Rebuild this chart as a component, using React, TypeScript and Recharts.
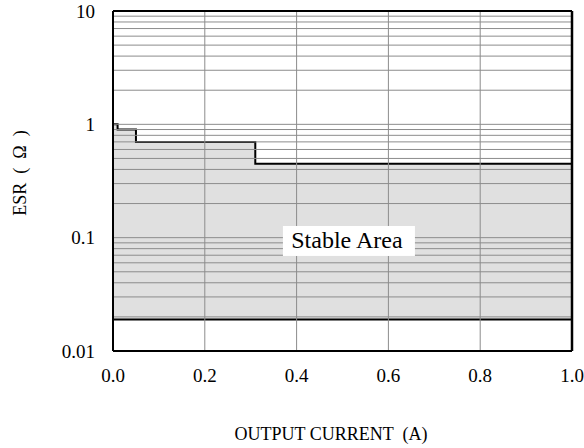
import {
  ComposedChart,
  Area,
  XAxis,
  YAxis,
  ReferenceLine,
  ReferenceDot,
} from "recharts";

// output current (A) where the ESR ceiling changes
const currentA = [0, 0.01, 0.05, 0.31, 1.0];
// max ESR allowed from each current onward
const esrMax = [1.0, 0.9, 0.7, 0.45, 0.45];
// min ESR, flat across the range
const esrMin = [0.019, 0.019, 0.019, 0.019, 0.019];

const xTicks = [0, 0.2, 0.4, 0.6, 0.8, 1.0];
const yTicks = [0.01, 0.1, 1, 10];
const minorSteps = [1, 2, 3, 4, 5, 6, 7, 8, 9];

const FONT = "Liberation Serif";

const data = currentA.map((x, i) => ({
  current: x,
  band: [esrMin[i], esrMax[i]],
}));

// log grid: every 1..9 step in each decade
const gridValues = yTicks
  .slice(0, -1)
  .flatMap((d) => minorSteps.map((s) => +(s * d).toPrecision(3)));

const StableLabel = (props: any) => {
  const { viewBox } = props;
  const cx = viewBox.x;
  const cy = viewBox.y;
  return (
    <g>
      <rect x={cx - 66} y={cy - 15} width={132} height={30} fill="#fff" />
      <text
        x={cx - 2}
        y={cy + 7}
        textAnchor="middle"
        fontFamily={FONT}
        fontSize={24}
        fill="#000"
      >
        Stable Area
      </text>
    </g>
  );
};

export default function App() {
  return (
    <div style={{ position: "fixed", left: 0, top: 0, width: 584, height: 448, background: "#fff" }}>
      <ComposedChart
        width={584}
        height={448}
        data={data}
        margin={{ top: 11, right: 12, left: 53, bottom: 67 }}
        style={{ fontFamily: FONT }}
      >
        <XAxis
          dataKey="current"
          type="number"
          domain={[0, 1]}
          ticks={xTicks}
          tickFormatter={(v: number) => v.toFixed(1)}
          axisLine={{ stroke: "#000", strokeWidth: 2 }}
          tickLine={false}
          tick={{ fill: "#000", fontFamily: FONT, fontSize: 19 }}
          tickMargin={12}
          height={30}
        />
        <YAxis
          scale="log"
          domain={[0.01, 10]}
          ticks={yTicks}
          allowDataOverflow
          tickFormatter={(v: number) => String(v)}
          axisLine={{ stroke: "#000", strokeWidth: 2 }}
          tickLine={false}
          tick={{ fill: "#000", fontFamily: FONT, fontSize: 19 }}
          tickMargin={12}
          width={60}
        />
        {/* stable band fill */}
        <Area
          dataKey="band"
          type="stepAfter"
          fill="#e0e0e0"
          fillOpacity={1}
          stroke="none"
          isAnimationActive={false}
          dot={false}
          activeDot={false}
        />
        {gridValues.map((v) => (
          <ReferenceLine key={`h${v}`} y={v} stroke="#8c8c8c" strokeWidth={1} />
        ))}
        {xTicks.slice(1, -1).map((v) => (
          <ReferenceLine key={`v${v}`} x={v} stroke="#8c8c8c" strokeWidth={1} />
        ))}
        {/* band edges on top of the grid */}
        <Area
          dataKey="band"
          type="stepAfter"
          fill="none"
          stroke="#000"
          strokeWidth={2}
          isAnimationActive={false}
          dot={false}
          activeDot={false}
        />
        <ReferenceLine y={10} stroke="#000" strokeWidth={2} />
        <ReferenceLine x={1} stroke="#000" strokeWidth={2.5} />
        <ReferenceDot x={0.514} y={0.0935} r={0} label={<StableLabel />} />
      </ComposedChart>
      <div
        style={{
          position: "absolute",
          left: 20,
          top: 173,
          transform: "translate(-50%, -50%) rotate(-90deg)",
          fontFamily: FONT,
          fontSize: 18,
          whiteSpace: "pre",
        }}
      >
        {"ESR  (  Ω  )"}
      </div>
      <div
        style={{
          position: "absolute",
          left: 331,
          top: 434,
          transform: "translate(-50%, -50%)",
          fontFamily: FONT,
          fontSize: 18,
          whiteSpace: "pre",
        }}
      >
        {"OUTPUT CURRENT  (A)"}
      </div>
    </div>
  );
}
